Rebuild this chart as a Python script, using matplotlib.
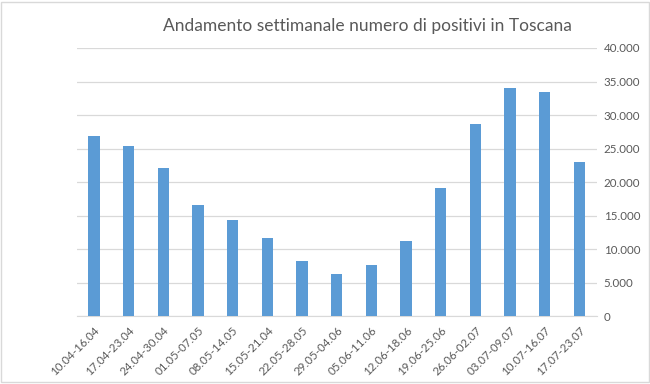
import matplotlib
matplotlib.use('Agg')
import matplotlib.pyplot as plt
from matplotlib.ticker import FuncFormatter
from matplotlib.patches import Rectangle

weeks = ['10.04-16.04', '17.04-23.04', '24.04-30.04', '01.05-07.05', '08.05-14.05',
         '15.05-21.04', '22.05-28.05', '29.05-04.06', '05.06-11.06', '12.06-18.06',
         '19.06-25.06', '26.06-02.07', '03.07-09.07', '10.07-16.07', '17.07-23.07']
positivi = [26850, 25350, 22050, 16500, 14400, 11700, 8250, 6300, 7650, 11250,
            19100, 28650, 34050, 33450, 22950]

plt.rcParams['font.family'] = ['Lato', 'DejaVu Sans']

fig = plt.figure(figsize=(6.5, 3.84), dpi=100)
ax = fig.add_axes([0.118, 0.177, 0.8, 0.698])

x = range(len(weeks))
ax.bar(x, positivi, width=0.32, color='#5b9bd5', zorder=3)

ax.set_xlim(-0.5, len(weeks) - 0.5)
ax.set_ylim(0, 40000)
ax.set_yticks(range(0, 40001, 5000))
ax.yaxis.set_major_formatter(FuncFormatter(lambda v, p: f'{int(v):,}'.replace(',', '.')))
ax.yaxis.tick_right()
ax.grid(axis='y', color='#d9d9d9', linewidth=0.9, zorder=0)
ax.set_xticks(list(x))
ax.set_xticklabels(weeks, rotation=45, ha='right', rotation_mode='anchor')
ax.tick_params(axis='both', length=0, labelsize=8.3, colors='#595959', pad=6)
ax.tick_params(axis='y', pad=5)
for s in ['top', 'left', 'right']:
    ax.spines[s].set_visible(False)
ax.spines['bottom'].set_color('#d9d9d9')

fig.text(0.566, 0.932, 'Andamento settimanale numero di positivi in Toscana',
         ha='center', va='center', fontsize=12.5, color='#595959')

fig.patches.append(Rectangle((0.002, 0.004), 0.996, 0.992, transform=fig.transFigure,
                             fill=False, edgecolor='#d9d9d9', linewidth=1))

fig.savefig('out.png', dpi=100)
